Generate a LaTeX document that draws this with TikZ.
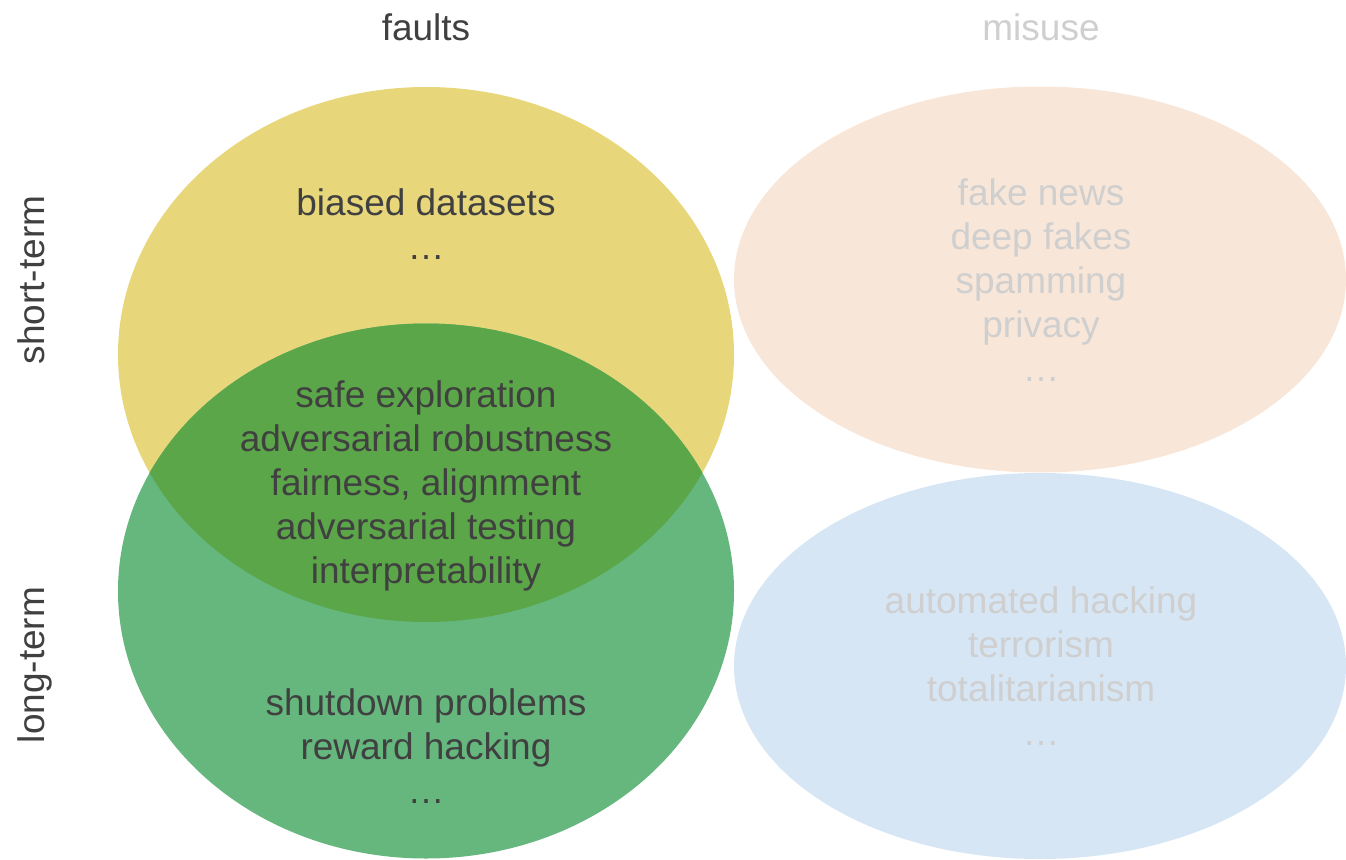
\documentclass[tikz,border=0pt]{standalone}
\usepackage{fontspec}
\setmainfont{Liberation Sans}
\definecolor{yellowset}{HTML}{E8D67A}
\definecolor{greenset}{HTML}{65B77E}
\definecolor{bothset}{HTML}{5CA64A}
\definecolor{peachset}{HTML}{F8E6D8}
\definecolor{blueset}{HTML}{D7E6F5}
\definecolor{darktext}{HTML}{404040}
\definecolor{faded}{HTML}{CFCFCF}
\begin{document}
\begin{tikzpicture}[x=1pt,y=-1pt,
  lbl/.style={anchor=base,inner sep=0pt,font=\fontsize{37}{44}\selectfont},
  dark/.style={lbl,text=darktext},
  light/.style={lbl,text=faded}]
\useasboundingbox (0,0) rectangle (1346,859);
% the four sets
\fill[yellowset] (426,354.5) ellipse [x radius=308, y radius=267.5];
\fill[greenset] (426,591) ellipse [x radius=308, y radius=267.5];
\begin{scope}
  \clip (426,354.5) ellipse [x radius=308, y radius=267.5];
  \fill[bothset] (426,591) ellipse [x radius=308, y radius=267.5];
\end{scope}
\fill[peachset] (1040,279.5) ellipse [x radius=306, y radius=193];
\fill[blueset] (1040,666) ellipse [x radius=306, y radius=193];
% column and row headings
\node[dark] (faults) at (426,41) {faults};
\node[light] (misuse) at (1041,41) {misuse};
\node[dark,rotate=90] (short) at (44,280) {short-term};
\node[dark,rotate=90] (long) at (44,665) {long-term};
% short-term faults
\node[dark] (b1) at (426,215) {biased datasets};
\node[dark] (b2) at (426,259) {…};
% shared
\node[dark] (c1) at (426,407) {safe exploration};
\node[dark] (c2) at (426,451) {adversarial robustness};
\node[dark] (c3) at (426,495) {fairness, alignment};
\node[dark] (c4) at (426,539) {adversarial testing};
\node[dark] (c5) at (426,583) {interpretability};
% long-term faults
\node[dark] (l1) at (426,715) {shutdown problems};
\node[dark] (l2) at (426,759) {reward hacking};
\node[dark] (l3) at (426,803) {…};
% short-term misuse
\node[light] (m1) at (1041,205) {fake news};
\node[light] (m2) at (1041,249) {deep fakes};
\node[light] (m3) at (1041,293) {spamming};
\node[light] (m4) at (1041,337) {privacy};
\node[light] (m5) at (1041,381) {…};
% long-term misuse
\node[light] (n1) at (1041,613) {automated hacking};
\node[light] (n2) at (1041,657) {terrorism};
\node[light] (n3) at (1041,701) {totalitarianism};
\node[light] (n4) at (1041,745) {…};
\end{tikzpicture}
\end{document}
